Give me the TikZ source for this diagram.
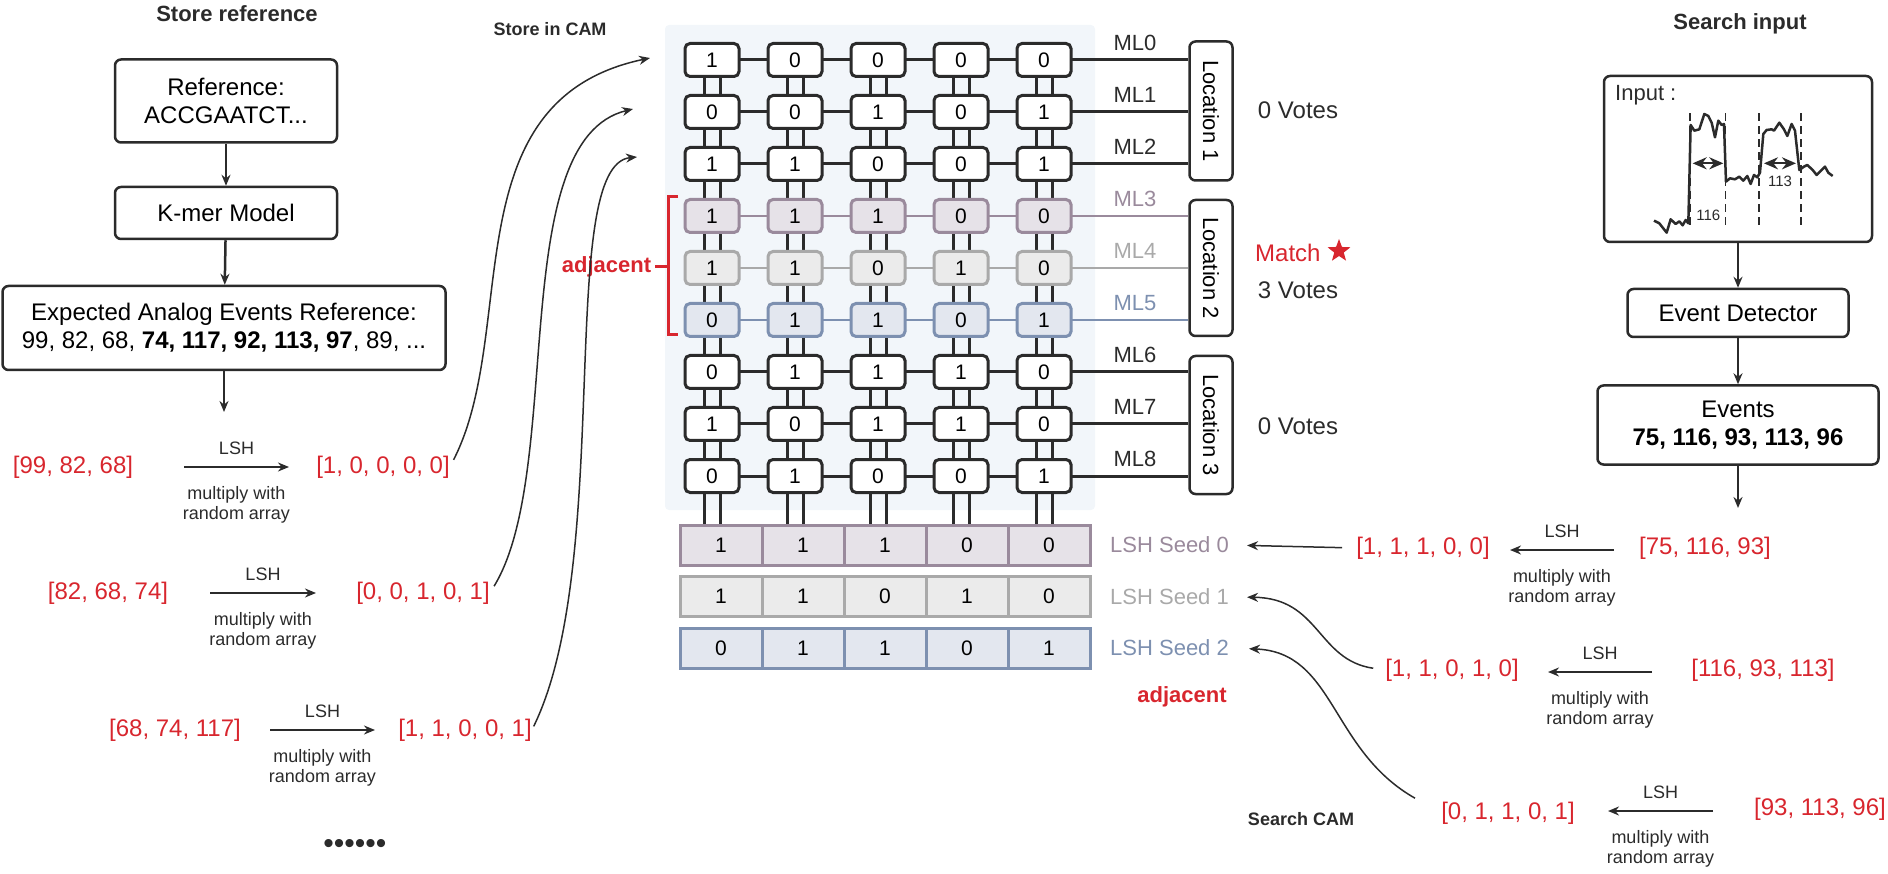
\documentclass[tikz,border=0pt]{standalone}
\usepackage{fontspec}
\setmainfont{Liberation Sans}
\usetikzlibrary{arrows.meta,shapes.geometric}
\pgfdeclarelayer{panel}
\pgfdeclarelayer{bg}
\pgfsetlayers{panel,bg,main}
\definecolor{ink}{HTML}{2B2B2B}
\definecolor{vred}{HTML}{D8262E}
\definecolor{pur}{HTML}{9A8A9C}
\definecolor{purf}{HTML}{E6E2E8}
\definecolor{gry}{HTML}{A9A9A9}
\definecolor{gryf}{HTML}{EBEBEB}
\definecolor{blu}{HTML}{7D90B0}
\definecolor{bluf}{HTML}{E3E7EF}
\definecolor{panelc}{HTML}{F2F6FA}
\newcommand\fs[1]{\fontsize{#1}{#1}\selectfont}
\newcommand\camrow[3]{% index, cell style, digits
  \foreach \d [count=\c from 0] in {#3}
    \node[cell,#2] (c#1\c) at ({712+83*\c},{60+52*#1}) {\d};}
\newcommand\seedrow[3]{% index, cell style, digits
  \foreach \d [count=\c from 0] in {#3}
    \node[seed,#2] (s#1\c) at ({721+82*\c},{545+51.5*#1}) {\d};}
\begin{document}
\begin{tikzpicture}[x=1pt,y=-1pt,
  box/.style={draw=ink,line width=2.5pt,rounded corners=6pt,align=center,font=\fs{24}},
  arr/.style={draw=ink,line width=2.5pt,-{Stealth[length=11pt,width=9pt]}},
  thin arr/.style={draw=ink,line width=1.5pt,-{Stealth[length=11pt,width=9pt]}},
  vec/.style={text=vred,inner sep=0pt,font=\fs{24}},
  small/.style={inner sep=0pt,font=\fs{18},text=ink,align=center},
  title/.style={font={\bfseries\fs{22}},text=ink},
  stitle/.style={font={\bfseries\fs{18}},text=ink},
  cell/.style={draw=ink,fill=white,line width=3pt,rounded corners=5pt,minimum width=54pt,minimum height=33pt,inner sep=0pt,font=\fs{21}},
  seed/.style={draw,line width=3pt,minimum width=82pt,minimum height=40pt,inner sep=0pt,font=\fs{21}},
  rowP/.style={draw=pur,fill=purf},
  rowG/.style={draw=gry,fill=gryf},
  rowB/.style={draw=blu,fill=bluf},
  loc/.style={draw=ink,line width=2.5pt,rounded corners=6pt,minimum width=43pt,inner sep=0pt},
  ml/.style={inner sep=0pt,font=\fs{22}},
  votes/.style={inner sep=0pt,font=\fs{24},text=ink}]
\useasboundingbox (0,0) rectangle (1888,874);

% ---------- store reference ----------
\node[title] (t1) at (237,14) {Store reference};
\node[box,minimum width=222pt,minimum height=83pt] (b1) at (226,101) {Reference:\\[4pt]ACCGAATCT...};
\node[box,minimum width=222pt,minimum height=52pt] (b2) at (226,213) {K-mer Model};
\node[box,minimum width=443pt,minimum height=84pt] (b3) at (224,328)
  {Expected Analog Events Reference:\\[4pt]99, 82, 68, \textbf{74, 117, 92, 113, 97}, 89, ...};
\coordinate (b3e) at (224,412);
\draw[arr] (b1) -- (b2);
\draw[arr] (b2) -- (b3);
\draw[arr] (b3) -- (b3e);

\node[vec] (i1) at (73,467) {[99, 82, 68]};
\node[vec] (o1) at (383,467) {[1, 0, 0, 0, 0]};
\node[vec] (i2) at (108,593) {[82, 68, 74]};
\node[vec] (o2) at (423,593) {[0, 0, 1, 0, 1]};
\node[vec] (i3) at (175,730) {[68, 74, 117]};
\node[vec] (o3) at (465,730) {[1, 1, 0, 0, 1]};
\foreach \n/\a/\b/\y in {1/184/289/467,2/210/316/593,3/270/375/730}{
  \coordinate (ls\n) at (\a,\y); \coordinate (le\n) at (\b,\y);
  \draw[arr] (ls\n) -- (le\n);
  \node[small] (lh\n) at ({(\a+\b)/2},{\y-19}) {LSH};
  \node[small] (lm\n) at ({(\a+\b)/2},{\y+38}) {multiply with\\[2pt]random array};
}
\node[inner sep=0pt,text=ink,font=\fs{30}] (dots) at (355,846) {\textbullet\textbullet\textbullet\textbullet\textbullet\textbullet};

% ---------- CAM ----------
\node[stitle] (t2) at (550,29) {Store in CAM};
\camrow{0}{}{1,0,0,0,0}
\camrow{1}{}{0,0,1,0,1}
\camrow{2}{}{1,1,0,0,1}
\camrow{3}{rowP}{1,1,1,0,0}
\camrow{4}{rowG}{1,1,0,1,0}
\camrow{5}{rowB}{0,1,1,0,1}
\camrow{6}{}{0,1,1,1,0}
\camrow{7}{}{1,0,1,1,0}
\camrow{8}{}{0,1,0,0,1}
\seedrow{0}{rowP}{1,1,1,0,0}
\seedrow{1}{rowG}{1,1,0,1,0}
\seedrow{2}{rowB}{0,1,1,0,1}

\node[loc,minimum height=139pt] (loc1) at (1211,111) {\rotatebox{-90}{\fs{22}Location 1}};
\node[loc,minimum height=136pt] (loc2) at (1211,268) {\rotatebox{-90}{\fs{22}Location 2}};
\node[loc,minimum height=138pt] (loc3) at (1211,425) {\rotatebox{-90}{\fs{22}Location 3}};

\begin{pgfonlayer}{panel}
  \fill[panelc,rounded corners=4pt] (665,25) rectangle (1095,510);
\end{pgfonlayer}
\begin{pgfonlayer}{bg}
  \foreach \c in {0,...,4}{
    \draw[ink,line width=3pt] ([xshift=-8pt]c0\c.center) -- ([xshift=-8pt]c0\c.center |- s0\c.north);
    \draw[ink,line width=3pt] ([xshift=8pt]c0\c.center) -- ([xshift=8pt]c0\c.center |- s0\c.north);
  }
  \foreach \r/\l/\col/\w in {0/loc1/ink/3pt,1/loc1/ink/3pt,2/loc1/ink/3pt,3/loc2/pur/2pt,4/loc2/gry/2pt,5/loc2/blu/2pt,6/loc3/ink/3pt,7/loc3/ink/3pt,8/loc3/ink/3pt}
    \draw[\col,line width=\w] (c\r0.center) -- (\l.west |- c\r0.center);
\end{pgfonlayer}
\foreach \r/\col in {0/ink,1/ink,2/ink,3/pur,4/gry,5/blu,6/ink,7/ink,8/ink}
  \node[ml,text=\col] (ml\r) at (1135,{43+52*\r}) {ML\r};

\node[votes] (v1) at (1298,110) {0 Votes};
\node[inner sep=0pt,anchor=west,text=vred,font=\fs{24}] (match) at (1255,253) {Match};
\node[star,star points=5,star point ratio=2.4,fill=vred,minimum size=24pt,inner sep=0pt] (st) at (1339,251) {};
\node[votes] (v2) at (1298,290) {3 Votes};
\node[votes] (v3) at (1298,426) {0 Votes};

% adjacent bracket
\coordinate (bt) at (678,197);
\coordinate (bb) at (678,335);
\coordinate (bk) at (655,267);
\draw[vred,line width=3pt] (bt) -- (668,197) -- (668,335) -- (bb);
\draw[vred,line width=3pt] (668,267) -- (bk);
\node[inner sep=0pt,anchor=east,text=vred,font={\bfseries\fs{22}}] (adj1) at (bk) {adjacent\,};

% seed labels
\node[inner sep=0pt,anchor=west,text=pur,font=\fs{22}] (sl0) at (1110,545) {LSH Seed 0};
\node[inner sep=0pt,anchor=west,text=gry,font=\fs{22}] (sl1) at (1110,597) {LSH Seed 1};
\node[inner sep=0pt,anchor=west,text=blu,font=\fs{22}] (sl2) at (1110,648) {LSH Seed 2};
\node[inner sep=0pt,text=vred,font={\bfseries\fs{22}}] (adj2) at (1182,697) {adjacent};

% store curves
\coordinate (p1) at (650,58);
\coordinate (p2) at (633,109);
\coordinate (p3) at (637,157);
\draw[thin arr,shorten <=8pt] (o1.east) .. controls (520,330) and (450,100) .. (p1);
\draw[thin arr,shorten <=8pt] (o2.east) .. controls (565,470) and (505,140) .. (p2);
\draw[thin arr,shorten <=4pt] (o3.east) .. controls (615,560) and (555,165) .. (p3);

% ---------- search input ----------
\node[title] (t3) at (1740,24) {Search input};
\node[box,minimum width=268pt,minimum height=166pt] (inp) at (1738,159) {};
\node[inner sep=0pt,anchor=west,font=\fs{22},text=ink] (inl) at (1615,95) {Input :};
\begin{scope}[xshift=1500pt,yshift=-60pt,x=0.3333pt,y=-0.3333pt]
  \draw[ink,line width=2.5pt,line join=round] (462,482) -- (478,490) -- (500,518) -- (512,478) -- (527,492) -- (538,484) -- (548,496) -- (557,480) -- (565,490)
    -- (572,195) -- (583,212) -- (598,208) -- (613,162) -- (625,168) -- (635,188) -- (645,232) -- (655,182) -- (665,195) -- (672,192)
    -- (678,365) -- (690,355) -- (705,358) -- (718,350) -- (730,362) -- (742,348) -- (752,372) -- (762,345) -- (772,352) -- (780,338)
    -- (790,222) -- (800,210) -- (815,208) -- (822,212) -- (838,188) -- (852,208) -- (862,228) -- (875,192) -- (885,212)
    -- (898,330) -- (912,320) -- (922,315) -- (938,330) -- (950,345) -- (965,330) -- (975,320) -- (985,338) -- (998,348);
  \foreach \xx in {570,677,777,903}
    \draw[ink,line width=1.3pt,dash pattern=on 8pt off 5pt] (\xx,160) -- (\xx,500);
  \draw[ink,line width=2.2pt,{Stealth[length=14pt,width=12pt]}-{Stealth[length=14pt,width=12pt]}] (578,310) -- (670,310);
  \draw[ink,line width=2.2pt,{Stealth[length=14pt,width=12pt]}-{Stealth[length=14pt,width=12pt]}] (792,310) -- (888,310);
  \node[inner sep=0pt,font=\fs{15},text=ink] (n116) at (625,465) {116};
  \node[inner sep=0pt,font=\fs{15},text=ink] (n113) at (840,365) {113};
\end{scope}
\node[box,minimum width=221pt,minimum height=48pt] (ed) at (1738,313) {Event Detector};
\node[box,minimum width=281pt,minimum height=79pt] (ev) at (1738,425) {Events\\[4pt]\textbf{75, 116, 93, 113, 96}};
\coordinate (eve) at (1738,508);
\draw[arr] (inp) -- (ed);
\draw[arr] (ed) -- (ev);
\draw[arr] (ev) -- (eve);

\node[vec] (ri1) at (1705,548) {[75, 116, 93]};
\node[vec] (ro1) at (1423,548) {[1, 1, 1, 0, 0]};
\node[vec] (ri2) at (1763,670) {[116, 93, 113]};
\node[vec] (ro2) at (1452,670) {[1, 1, 0, 1, 0]};
\node[vec] (ri3) at (1820,809) {[93, 113, 96]};
\node[vec] (ro3) at (1508,813) {[0, 1, 1, 0, 1]};
\foreach \n/\a/\b/\y in {1/1614/1510/550,2/1652/1548/672,3/1713/1608/811}{
  \coordinate (rs\n) at (\a,\y); \coordinate (re\n) at (\b,\y);
  \draw[arr] (rs\n) -- (re\n);
  \node[small] (rh\n) at ({(\a+\b)/2},{\y-19}) {LSH};
  \node[small] (rm\n) at ({(\a+\b)/2},{\y+38}) {multiply with\\[2pt]random array};
}
\node[stitle] (t4) at (1301,819) {Search CAM};
\draw[thin arr,shorten <=14pt,shorten >=18pt] (ro1.west) -- (sl0.east);
\draw[thin arr,shorten <=12pt,shorten >=18pt] (ro2.west) .. controls (1317,660) and (1320,598) .. (sl1.east);
\draw[thin arr,shorten <=30pt,shorten >=20pt] (ro3.west) .. controls (1330,750) and (1335,652) .. (sl2.east);
\end{tikzpicture}
\end{document}
